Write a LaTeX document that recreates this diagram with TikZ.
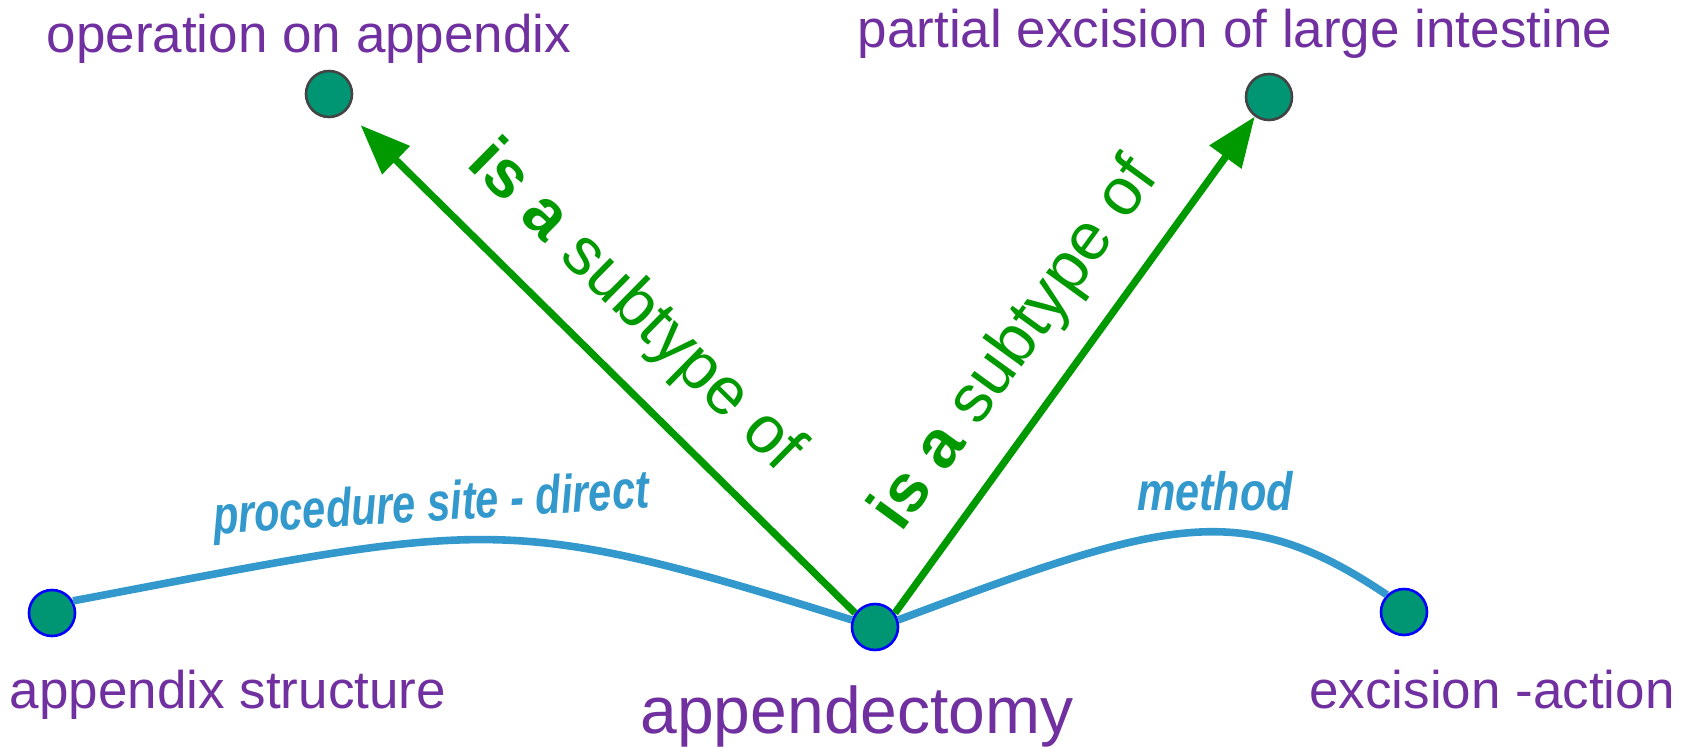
\documentclass[tikz,border=0pt]{standalone}
\usepackage{fontspec}
\usepackage{graphicx}
\setmainfont{Liberation Sans}
\usetikzlibrary{arrows.meta}
\definecolor{lblpurple}{RGB}{112,48,160}
\definecolor{nodeteal}{RGB}{0,150,115}
\definecolor{isagreen}{RGB}{0,153,0}
\definecolor{relblue}{RGB}{51,153,204}
\definecolor{rimgray}{RGB}{68,68,68}
\begin{document}
\begin{tikzpicture}[x=0.5pt,y=-0.5pt,
  concept/.style={circle, fill=nodeteal, minimum size=23pt, inner sep=0pt, line width=1.3pt},
  toprim/.style={concept, draw=rimgray},
  botrim/.style={concept, draw=blue},
  conceptlabel/.style={text=lblpurple, font=\fontsize{26.5}{30}\selectfont, anchor=base, inner sep=0pt},
  isa/.style={draw=isagreen, line width=3.6pt, -{Triangle[length=25pt,width=19pt]}},
  isalabel/.style={text=isagreen, font=\fontsize{33.5}{40}\selectfont, sloped, inner sep=0pt},
  rel/.style={draw=relblue, line width=3.8pt},
  rellabel/.style={text=relblue, font=\fontsize{27}{32}\selectfont\bfseries\itshape, inner sep=0pt, anchor=base}
]
\useasboundingbox (0,0) rectangle (1693,746);

% concept nodes
\node[toprim] (opapp) at (329,94) {};
\node[toprim] (partex) at (1269,97) {};
\node[botrim] (appstruct) at (52,613) {};
\node[botrim] (appdect) at (875,627) {};
\node[botrim] (excis) at (1404,612) {};

% concept labels
\node[conceptlabel] (opappL) at (309,52) {operation on appendix};
\node[conceptlabel] (partexL) at (1235,47) {partial excision of large intestine};
\node[conceptlabel] (appstructL) at (228,708) {appendix structure};
\node[conceptlabel, font=\fontsize{33}{40}\selectfont] (appdectL) at (857,733) {appendectomy};
\node[conceptlabel] (excisL) at (1492,708) {excision -action};

% attribute relations
\draw[rel] (appstruct.30) .. controls (490,522) and (500,510) .. (appdect.163);
\draw[rel] (appdect.17) .. controls (1165,520) and (1240,496) .. (excis.135);
\node[rellabel, rotate=3.5] (siteL) at (432,521) {\scalebox{0.77}[1]{procedure site - direct}};
\node[rellabel] (methodL) at (1215,510) {\scalebox{0.8}[1]{method}};

% is-a relations
\draw[isa, shorten >=10pt] (appdect.145) -- node[isalabel, pos=0.52, above=14pt] {\textbf{is a} subtype of} (opapp);
\draw[isa] (appdect.35) -- node[isalabel, pos=0.47, above=12pt] {\textbf{is a} subtype of} (partex);
\end{tikzpicture}
\end{document}
